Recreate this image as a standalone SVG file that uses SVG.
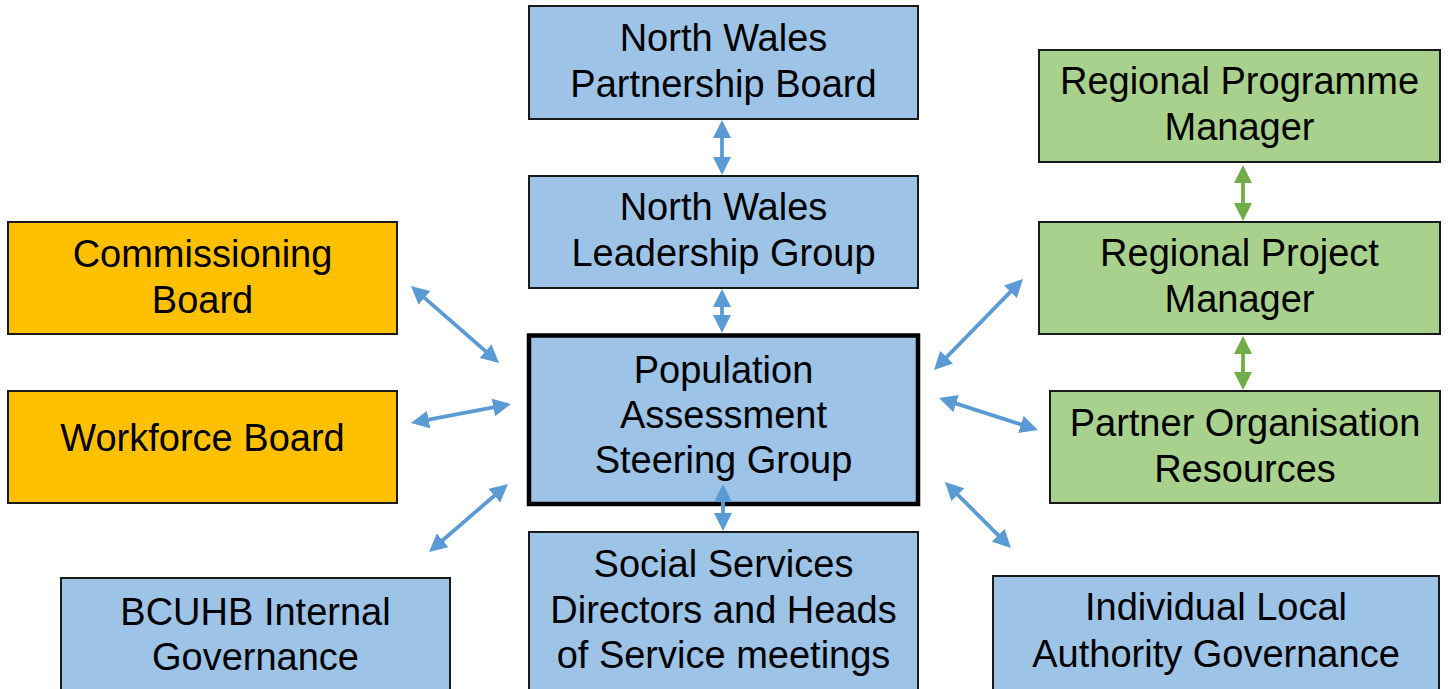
<svg xmlns="http://www.w3.org/2000/svg" width="1448" height="689" viewBox="0 0 1448 689">
<style>
  .box { stroke: #1a1a1a; stroke-width: 2; }
  .blue { fill: #9DC3E6; }
  .orange { fill: #FFC000; }
  .green { fill: #A9D18E; }
  .main { stroke: #000; stroke-width: 4.5; fill: #9DC3E6; }
  text { font-family: "Liberation Sans", Arial, sans-serif; font-size: 38px; fill: #000; text-anchor: middle; }
  .cb { stroke: #5B9BD5; stroke-width: 3.8; fill: none; marker-start: url(#ab); marker-end: url(#ab); }
  .cg { stroke: #70AD47; stroke-width: 3.8; fill: none; marker-start: url(#ag); marker-end: url(#ag); }
</style>
<defs>
  <marker id="ab" viewBox="0 0 18 18" refX="8" refY="9" markerWidth="18" markerHeight="18" markerUnits="userSpaceOnUse" orient="auto-start-reverse">
    <path d="M0,0 L18,9 L0,18 z" fill="#5B9BD5"/>
  </marker>
  <marker id="ag" viewBox="0 0 18 18" refX="8" refY="9" markerWidth="18" markerHeight="18" markerUnits="userSpaceOnUse" orient="auto-start-reverse">
    <path d="M0,0 L18,9 L0,18 z" fill="#70AD47"/>
  </marker>
</defs>
<rect width="1448" height="689" fill="#fff"/>

<g id="partnership-board">
  <rect class="box blue" x="529" y="6" width="389" height="113"/>
  <text x="723.5" y="51">North Wales</text>
  <text x="723.5" y="97">Partnership Board</text>
</g>
<g id="leadership-group">
  <rect class="box blue" x="529" y="176" width="389" height="112"/>
  <text x="723.5" y="220">North Wales</text>
  <text x="723.5" y="266">Leadership Group</text>
</g>
<g id="steering-group">
  <rect class="main" x="529" y="335.5" width="389" height="168.5"/>
  <text x="723.5" y="383">Population</text>
  <text x="723.5" y="428">Assessment</text>
  <text x="723.5" y="473">Steering Group</text>
</g>
<g id="social-services">
  <rect class="box blue" x="529" y="532" width="389" height="162"/>
  <text x="723.5" y="577">Social Services</text>
  <text x="723.5" y="623">Directors and Heads</text>
  <text x="723.5" y="668">of Service meetings</text>
</g>
<g id="commissioning-board">
  <rect class="box orange" x="8" y="222" width="389" height="112"/>
  <text x="202.5" y="267">Commissioning</text>
  <text x="202.5" y="313">Board</text>
</g>
<g id="workforce-board">
  <rect class="box orange" x="8" y="391" width="389" height="112"/>
  <text x="202.5" y="451">Workforce Board</text>
</g>
<g id="bcuhb">
  <rect class="box blue" x="61" y="578" width="389" height="116"/>
  <text x="255.5" y="625">BCUHB Internal</text>
  <text x="255.5" y="670">Governance</text>
</g>
<g id="programme-manager">
  <rect class="box green" x="1039" y="50" width="401" height="112"/>
  <text x="1239.5" y="94">Regional Programme</text>
  <text x="1239.5" y="140">Manager</text>
</g>
<g id="project-manager">
  <rect class="box green" x="1039" y="222" width="401" height="112"/>
  <text x="1239.5" y="266">Regional Project</text>
  <text x="1239.5" y="312">Manager</text>
</g>
<g id="partner-resources">
  <rect class="box green" x="1050" y="391" width="390" height="112"/>
  <text x="1245" y="436">Partner Organisation</text>
  <text x="1245" y="482">Resources</text>
</g>
<g id="local-authority">
  <rect class="box blue" x="993" y="576" width="446" height="118"/>
  <text x="1216" y="620">Individual Local</text>
  <text x="1216" y="667">Authority Governance</text>
</g>

<g id="connectors">
  <line class="cb" x1="722" y1="130" x2="722" y2="165"/>
  <line class="cb" x1="722" y1="299" x2="722" y2="323"/>
  <line class="cb" x1="723" y1="494" x2="723" y2="521"/>
  <line class="cb" x1="418.5" y1="292.6" x2="491.5" y2="356.4"/>
  <line class="cb" x1="420.8" y1="421.1" x2="501.2" y2="405.9"/>
  <line class="cb" x1="436.6" y1="545.5" x2="500.4" y2="490.5"/>
  <line class="cb" x1="941" y1="362.9" x2="1016" y2="286.1"/>
  <line class="cb" x1="948.5" y1="401.1" x2="1028.5" y2="426.9"/>
  <line class="cb" x1="952.1" y1="489.1" x2="1003.9" y2="540.9"/>
  <line class="cg" x1="1243" y1="175" x2="1243" y2="211"/>
  <line class="cg" x1="1243" y1="346" x2="1243" y2="380"/>
</g>
</svg>
